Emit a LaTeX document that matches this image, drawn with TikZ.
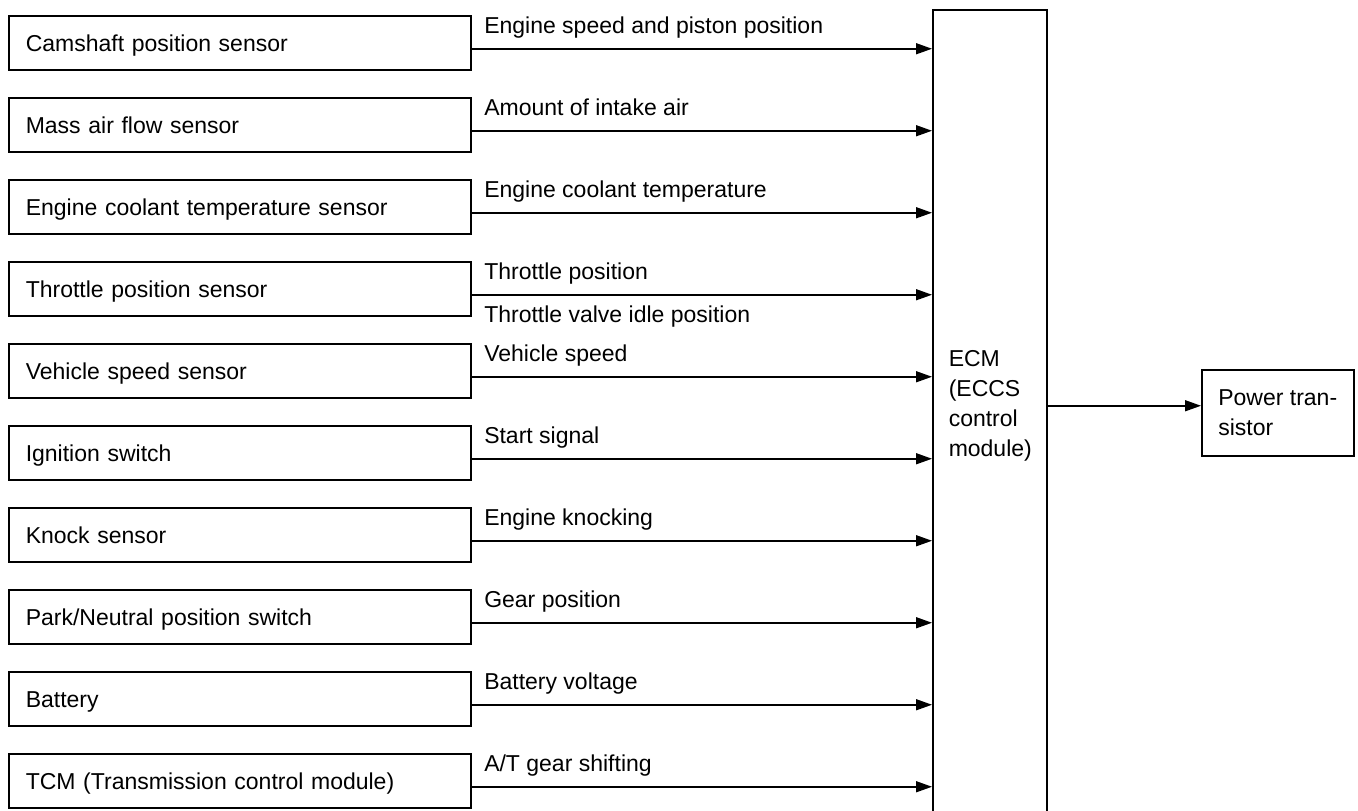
\documentclass[tikz,border=0pt]{standalone}
\usepackage{fontspec}
\setmainfont{Liberation Sans}
\usetikzlibrary{arrows.meta}
\begin{document}
\begin{tikzpicture}[x=1pt,y=-1pt, line width=1.5pt,
  font=\fontsize{23}{30}\selectfont,
  sensor/.style={draw, anchor=north west, text width=428pt, inner xsep=17pt, inner ysep=0pt, minimum height=54pt, align=left, text height=16.5pt, text depth=0pt},
  sig/.style={-{Triangle[length=16pt,width=11pt]}},
  siglabel/.style={anchor=base west, inner sep=0pt, xshift=12pt, yshift=15pt},
  siglabelb/.style={anchor=base west, inner sep=0pt, xshift=12pt, yshift=-28pt}]
\useasboundingbox (0,0) rectangle (1358,811);
% ECM block (open at the bottom edge of the picture)
\node[draw, anchor=north west, minimum width=114pt, minimum height=860pt, inner sep=0pt] (ecm) at (932,9) {};
\node[anchor=north west, align=left, inner sep=0pt] (ecmlabel) at (948,350) {ECM\\(ECCS\\control\\module)};
% Sensors
\node[sensor] (s1) at (8,15) {Camshaft position sensor};
\node[sensor] (s2) at (8,97) {Mass air flow sensor};
\node[sensor] (s3) at (8,179) {Engine coolant temperature sensor};
\node[sensor] (s4) at (8,261) {Throttle position sensor};
\node[sensor] (s5) at (8,343) {Vehicle speed sensor};
\node[sensor] (s6) at (8,425) {Ignition switch};
\node[sensor] (s7) at (8,507) {Knock sensor};
\node[sensor] (s8) at (8,589) {Park/Neutral position switch};
\node[sensor] (s9) at (8,671) {Battery};
\node[sensor] (s10) at (8,753) {TCM (Transmission control module)};
% Signal start points
\path ([yshift=-6pt]s1.east) coordinate (o1);
\path ([yshift=-6pt]s2.east) coordinate (o2);
\path ([yshift=-6pt]s3.east) coordinate (o3);
\path ([yshift=-6pt]s4.east) coordinate (o4);
\path ([yshift=-6pt]s5.east) coordinate (o5);
\path ([yshift=-6pt]s6.east) coordinate (o6);
\path ([yshift=-6pt]s7.east) coordinate (o7);
\path ([yshift=-6pt]s8.east) coordinate (o8);
\path ([yshift=-6pt]s9.east) coordinate (o9);
\path ([yshift=-6pt]s10.east) coordinate (o10);
% Signals
\draw[sig] (o1) -- (o1 -| ecm.west) node[siglabel, at start] (l1) {Engine speed and piston position};
\draw[sig] (o2) -- (o2 -| ecm.west) node[siglabel, at start] (l2) {Amount of intake air};
\draw[sig] (o3) -- (o3 -| ecm.west) node[siglabel, at start] (l3) {Engine coolant temperature};
\draw[sig] (o4) -- (o4 -| ecm.west) node[siglabel, at start] (l4) {Throttle position}
                                     node[siglabelb, at start] (l4b) {Throttle valve idle position};
\draw[sig] (o5) -- (o5 -| ecm.west) node[siglabel, at start] (l5) {Vehicle speed};
\draw[sig] (o6) -- (o6 -| ecm.west) node[siglabel, at start] (l6) {Start signal};
\draw[sig] (o7) -- (o7 -| ecm.west) node[siglabel, at start] (l7) {Engine knocking};
\draw[sig] (o8) -- (o8 -| ecm.west) node[siglabel, at start] (l8) {Gear position};
\draw[sig] (o9) -- (o9 -| ecm.west) node[siglabel, at start] (l9) {Battery voltage};
\draw[sig] (o10) -- (o10 -| ecm.west) node[siglabel, at start] (l10) {A/T gear shifting};
% Output
\node[draw, anchor=north west, minimum width=152pt, minimum height=86pt, align=left] (pt) at (1201,369) {Power tran-\\sistor};
\path ([yshift=7pt]pt.west) coordinate (po);
\draw[sig] (po -| ecm.east) -- (po);
\end{tikzpicture}
\end{document}
